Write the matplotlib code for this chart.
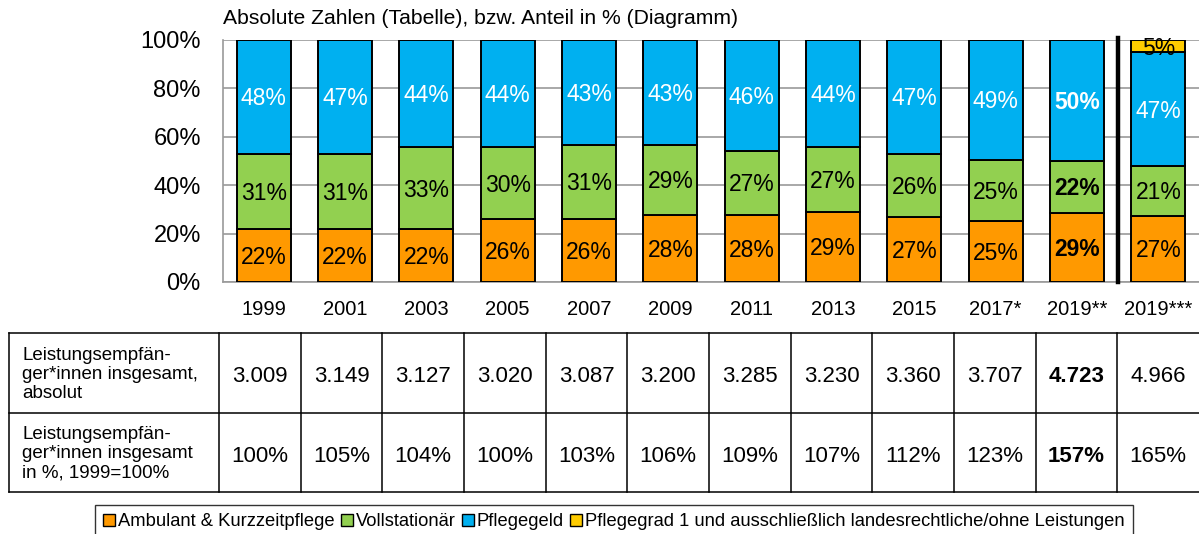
import numpy as np
import matplotlib
matplotlib.use("Agg")
import matplotlib.pyplot as plt
from matplotlib.patches import Patch

plt.rcParams['font.family'] = ['Liberation Sans', 'DejaVu Sans']

years = ["1999", "2001", "2003", "2005", "2007", "2009", "2011", "2013", "2015", "2017*", "2019**", "2019***"]

# segment heights in %
ambulant = [21.9, 22.0, 21.9, 25.9, 25.9, 27.8, 27.5, 29.0, 26.9, 25.3, 28.6, 27.3]
vollstationaer = [31.0, 31.0, 33.7, 29.9, 30.9, 28.8, 26.8, 26.9, 26.0, 25.1, 21.5, 20.6]
pflegegeld = [47.1, 47.0, 44.4, 44.2, 43.2, 43.4, 45.7, 44.1, 47.1, 49.6, 49.9, 47.0]
pflegegrad1 = [0, 0, 0, 0, 0, 0, 0, 0, 0, 0, 0, 5.1]

# printed labels
lab_ambulant = [22, 22, 22, 26, 26, 28, 28, 29, 27, 25, 29, 27]
lab_voll = [31, 31, 33, 30, 31, 29, 27, 27, 26, 25, 22, 21]
lab_geld = [48, 47, 44, 44, 43, 43, 46, 44, 47, 49, 50, 47]
lab_grad1 = [None] * 11 + [5]

# table rows
absolut = [3009, 3149, 3127, 3020, 3087, 3200, 3285, 3230, 3360, 3707, 4723, 4966]
index1999 = [100, 105, 104, 100, 103, 106, 109, 107, 112, 123, 157, 165]
row_labels = ["Leistungsempfän-\nger*innen insgesamt,\nabsolut",
              "Leistungsempfän-\nger*innen insgesamt\nin %, 1999=100%"]
bold_col = 10

series_names = ["Ambulant & Kurzzeitpflege", "Vollstationär", "Pflegegeld",
                "Pflegegrad 1 und ausschließlich landesrechtliche/ohne Leistungen"]
colors = ["#FF9900", "#92D050", "#00B0F0", "#FFCC00"]

W, H = 1199, 534
fig = plt.figure(figsize=(W / 100, H / 100), dpi=100)

# bar chart
ax = fig.add_axes([223 / W, 1 - 282 / H, (W - 223) / W, 242 / H])
x = np.arange(len(years))
bottom = np.zeros(len(years))
series = [ambulant, vollstationaer, pflegegeld, pflegegrad1]
labels = [lab_ambulant, lab_voll, lab_geld, lab_grad1]
txtcol = ["black", "black", "white", "black"]
for vals, labs, c, tc in zip(series, labels, colors, txtcol):
    vals = np.array(vals, dtype=float)
    ax.bar(x, vals, 0.665, bottom=bottom, color=c, edgecolor="black", linewidth=1.4, zorder=3)
    for i in range(len(x)):
        if labs[i] is None:
            continue
        ax.text(x[i], bottom[i] + vals[i] / 2 - 0.8, f"{labs[i]}%", ha="center", va="center",
                fontsize=16.5, color=tc, fontweight="bold" if i == bold_col else "normal", zorder=4)
    bottom += vals

ax.set_xlim(-0.5, len(years) - 0.5)
ax.set_ylim(0, 100)
ax.set_yticks(range(0, 101, 20))
ax.set_yticklabels([f"{v}%" for v in range(0, 101, 20)], fontsize=17)
ax.set_xticks(x)
ax.set_xticklabels(years, fontsize=14.5)
ax.tick_params(axis="y", length=0, pad=16)
ax.tick_params(axis="x", length=0, pad=13)
ax.yaxis.grid(True, color="#9a9a9a", linewidth=1.2, zorder=0)
for s in ["top", "right"]:
    ax.spines[s].set_visible(False)
for s in ["left", "bottom"]:
    ax.spines[s].set_color("#9a9a9a")
    ax.spines[s].set_linewidth(1.2)
ax.plot([10.5, 10.5], [0, 100.9], color="black", linewidth=3.2, clip_on=False, zorder=5)

fig.text(223 / W, 1 - 19 / H, "Absolute Zahlen (Tabelle), bzw. Anteil in % (Diagramm)",
         ha="left", va="center", fontsize=15.2)

# table below
tx = fig.add_axes([9 / W, 1 - 492 / H, (W - 9) / W, (492 - 333) / H])
left_w = (219 - 9) / ((W - 219) / 12)
tx.set_xlim(-0.5 - left_w, len(years) - 0.5)
tx.set_ylim(2, 0)
tx.axis("off")
for yy in [0, 1, 2]:
    tx.plot([-0.5 - left_w, len(years) - 0.5], [yy, yy], color="black", linewidth=1.1, clip_on=False)
for xx in [-0.5 - left_w] + list(np.arange(len(years)) - 0.5):
    tx.plot([xx, xx], [0, 2], color="black", linewidth=1.1, clip_on=False)

rows = [[f"{v:,}".replace(",", ".") for v in absolut], [f"{v}%" for v in index1999]]
for r in range(2):
    tx.text(-0.5 - left_w + 0.16, r + 0.52, row_labels[r], ha="left", va="center",
            fontsize=13.5, linespacing=1.15)
    for i in range(len(years)):
        tx.text(i, r + 0.55, rows[r][i], ha="center", va="center", fontsize=16,
                fontweight="bold" if i == bold_col else "normal")

# legend
handles = [Patch(facecolor=c, edgecolor="black", linewidth=1) for c in colors]
leg = fig.legend(handles, series_names, loc="upper left", bbox_to_anchor=(95 / W, 1 - 505 / H),
                 ncol=4, fontsize=13.2, frameon=True, fancybox=False, handlelength=0.65,
                 handleheight=0.65, handletextpad=0.15, columnspacing=0.35, borderpad=0.45,
                 borderaxespad=0)
leg.get_frame().set_edgecolor("black")
leg.get_frame().set_linewidth(1)

plt.savefig("out.png", dpi=100)
